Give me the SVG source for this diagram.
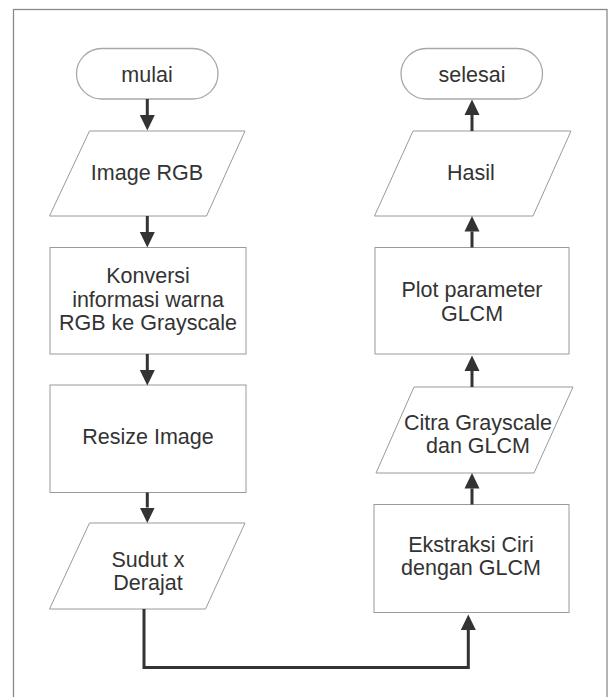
<svg xmlns="http://www.w3.org/2000/svg" width="608" height="697" viewBox="0 0 608 697">
<defs>
<style>
.frame{fill:none;stroke:#8a8a8a;stroke-width:1.3}
.shape{fill:#fff;stroke:#9a9a9a;stroke-width:1}
.term{fill:#fff;stroke:#a8a8a8;stroke-width:1.3}
.lbl{font-family:"Liberation Sans",Arial,sans-serif;font-size:21.5px;fill:#333;text-anchor:middle}
.conn{fill:none;stroke:#333;stroke-width:3}
</style>
<marker id="ah" markerUnits="userSpaceOnUse" markerWidth="16" markerHeight="16" refX="0" refY="7.5" orient="auto" viewBox="0 0 16 15">
<path d="M0,0 L15.5,7.5 L0,15 z" fill="#333"/>
</marker>
</defs>
<rect width="608" height="697" fill="#fff"/>
<rect class="frame" x="13.5" y="9.5" width="593.5" height="700"/>

<g id="mulai">
<rect class="term" x="76.5" y="48.5" width="141.5" height="50.5" rx="25.25"/>
<text class="lbl" x="147" y="81.5">mulai</text>
</g>
<g id="image-rgb">
<polygon class="shape" points="89.5,131 245,131 206.5,216 49.5,216"/>
<text class="lbl" x="147" y="179.5">Image RGB</text>
</g>
<g id="konversi">
<rect class="shape" x="50" y="247.5" width="196" height="106.5"/>
<text class="lbl" x="148" y="283">Konversi</text>
<text class="lbl" x="148" y="306.5">informasi warna</text>
<text class="lbl" x="148" y="330">RGB ke Grayscale</text>
</g>
<g id="resize">
<rect class="shape" x="50" y="385" width="196" height="107.5"/>
<text class="lbl" x="148" y="444">Resize Image</text>
</g>
<g id="sudut">
<polygon class="shape" points="89.5,523 245,523 205.5,609 49.5,609"/>
<text class="lbl" x="148" y="567">Sudut x</text>
<text class="lbl" x="148" y="590">Derajat</text>
</g>

<g id="selesai">
<rect class="term" x="401" y="48.5" width="141.5" height="50.5" rx="25.25"/>
<text class="lbl" x="472" y="81.5">selesai</text>
</g>
<g id="hasil">
<polygon class="shape" points="413,131 571,131 533,216 374.5,216"/>
<text class="lbl" x="471" y="180">Hasil</text>
</g>
<g id="plot">
<rect class="shape" x="375" y="247.5" width="194" height="106.5"/>
<text class="lbl" x="472" y="296.5">Plot parameter</text>
<text class="lbl" x="472" y="320.5">GLCM</text>
</g>
<g id="citra">
<polygon class="shape" points="414,387 573,387 534,473 376,473"/>
<text class="lbl" x="478" y="430">Citra Grayscale</text>
<text class="lbl" x="478" y="452.5">dan GLCM</text>
</g>
<g id="ekstraksi">
<rect class="shape" x="374" y="504.5" width="195" height="108"/>
<text class="lbl" x="471" y="551.5">Ekstraksi Ciri</text>
<text class="lbl" x="471" y="575">dengan GLCM</text>
</g>

<g id="connectors">
<line class="conn" x1="147.3" y1="99" x2="147.3" y2="115" marker-end="url(#ah)"/>
<line class="conn" x1="147.3" y1="216" x2="147.3" y2="232" marker-end="url(#ah)"/>
<line class="conn" x1="147.3" y1="354" x2="147.3" y2="370" marker-end="url(#ah)"/>
<line class="conn" x1="147.3" y1="492.5" x2="147.3" y2="507.5" marker-end="url(#ah)"/>
<polyline class="conn" points="144,609 144,667.5 468.3,667.5 468.3,630" marker-end="url(#ah)"/>
<line class="conn" x1="472" y1="504.5" x2="472" y2="488.5" marker-end="url(#ah)"/>
<line class="conn" x1="472" y1="387" x2="472" y2="371" marker-end="url(#ah)"/>
<line class="conn" x1="472" y1="247.5" x2="472" y2="231.5" marker-end="url(#ah)"/>
<line class="conn" x1="472" y1="131" x2="472" y2="115" marker-end="url(#ah)"/>
</g>
</svg>
